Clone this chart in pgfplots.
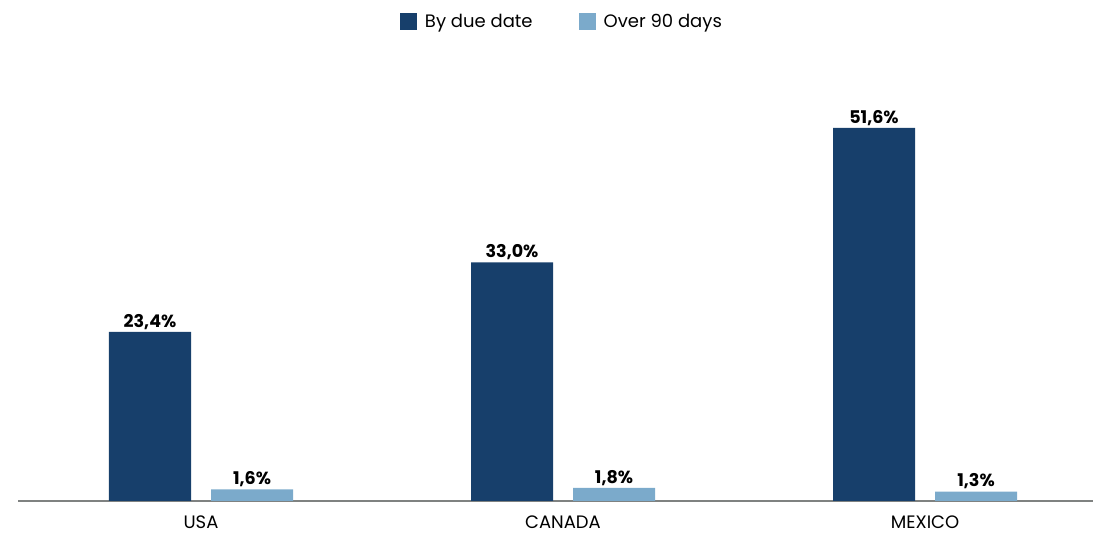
\documentclass[border=0pt]{standalone}
\usepackage{pgfplots}
\pgfplotsset{compat=1.18}
\usepackage{fontspec}
\setmainfont{Poppins}

\definecolor{darkblue}{HTML}{173F6B}
\definecolor{lightblue}{HTML}{7BAACB}
\definecolor{axisgray}{HTML}{7F8281}

\begin{document}
\begin{tikzpicture}
\path[use as bounding box] (0,0) rectangle (1093pt,540pt);
\begin{axis}[
    at={(18pt,39pt)}, anchor=south west,
    scale only axis,
    width=1075pt, height=433.8pt,
    ybar,
    bar width=82pt,
    xmin=-0.5055, xmax=2.464,
    ymin=0, ymax=60,
    xtick={0,1,2},
    xticklabels={USA,CANADA,MEXICO},
    x tick label style={font=\fontsize{18}{20}\selectfont, yshift=-11pt},
    major tick length=0pt,
    axis x line=bottom,
    axis y line=none,
    x axis line style={draw=axisgray, line width=2pt, -},
    clip=false,
    nodes near coords,
    nodes near coords style={font=\bfseries\fontsize{17.5}{20}\selectfont, yshift=-1pt},
    /pgf/number format/.cd, use comma, fixed, fixed zerofill, precision=1, assume math mode=true,
    /pgfplots/.cd,
    nodes near coords={\pgfmathprintnumber{\pgfplotspointmeta}\%},
    legend style={at={(0.506,1.133)}, anchor=north, draw=none,
        legend columns=2, font=\fontsize{18}{20}\selectfont,
        /tikz/every odd column/.append style={column sep=6pt},
        /tikz/every even column/.append style={column sep=44pt}},
    legend image code/.code={\fill[#1] (0pt,-8.5pt) rectangle (17pt,8.5pt);},
]
\addplot[fill=darkblue, draw=none, bar shift=-51pt] coordinates {(0,23.4) (1,33.0) (2,51.6)};
\addlegendentry{By due date}
\addplot[fill=lightblue, draw=none, bar shift=51pt] coordinates {(0,1.6) (1,1.8) (2,1.3)};
\addlegendentry{Over 90 days}
\end{axis}
\end{tikzpicture}
\end{document}
